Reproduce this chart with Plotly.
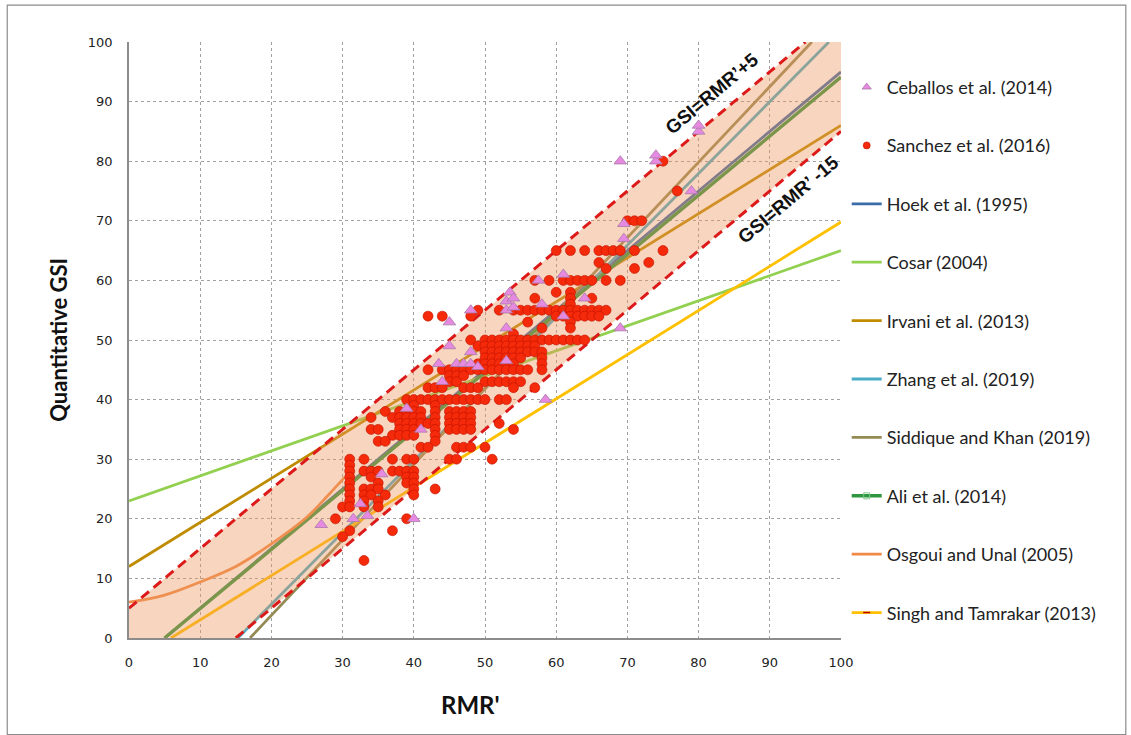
import plotly.graph_objects as go

# ---------------- data ----------------
# Sanchez et al. (2016) points (RMR', GSI)
sanchez_rmr = [
    75, 77, 70, 71, 72,
    60, 62, 64, 66, 67, 68, 69, 71, 75,
    66, 73, 67, 71,
    57, 59, 61, 62, 63, 64, 65, 67, 69,
    60, 62, 57, 62, 65, 62,
    49, 52, 54, 55, 56, 57, 58, 59, 60, 61, 62, 63, 64, 65, 66, 67,
    42, 44, 48, 60, 61, 62, 63, 64, 65, 66,
    56, 62, 58, 62, 54,
    48, 50, 51, 52, 53, 54, 55, 56, 57, 58, 59, 60, 61, 62, 63, 64,
    49, 50, 51, 52, 53, 54, 55, 56, 57,
    50, 51, 52, 53, 54, 55, 56, 57, 58,
    50, 51, 52, 53, 54, 55, 58,
    49, 50, 51, 52, 53, 54, 58,
    42, 44, 45, 46, 47, 48, 49, 50, 51, 52, 53, 54, 55, 56, 58,
    45, 46, 47,
    45, 46, 50, 51, 52, 53, 54, 55,
    42, 43, 44, 47, 48, 49, 54, 57,
    39, 40, 41, 42, 43, 44, 45, 46, 47, 48, 49, 50, 52, 53,
    40, 43,
    36, 38, 39, 40, 41, 43, 45, 46, 47, 48,
    34, 37, 38, 39, 40, 41, 43, 45, 46, 47, 48,
    38, 39, 40, 41, 42, 43, 45, 46, 47, 48, 52,
    34, 35, 38, 39, 40, 43, 45, 46, 47, 48, 54,
    37, 38, 39, 40, 43,
    35, 36, 43,
    41, 42, 46, 47, 48, 50,
    31, 33, 37, 39, 40, 45, 46, 51,
    31,
    31, 33, 34, 35, 37, 38, 39, 40,
    31, 34, 39, 40,
    31, 35, 39, 40,
    31, 33, 34, 35, 40, 43,
    31, 33, 34, 36, 40,
    31, 33, 35,
    30, 31, 33, 35,
    29, 39,
    31, 37,
    30,
    33,
]
sanchez_gsi = (
    [80, 75, 70, 70, 70]
    + [65] * 9
    + [63, 63, 62, 62]
    + [60] * 9
    + [58, 58, 57, 57, 57, 56]
    + [55] * 16
    + [54] * 10
    + [53, 53, 52, 52, 51]
    + [50] * 16
    + [49] * 9
    + [48] * 9
    + [47] * 7
    + [46] * 7
    + [45] * 15
    + [44] * 3
    + [43] * 8
    + [42] * 8
    + [40] * 14
    + [39] * 2
    + [38] * 10
    + [37] * 11
    + [36] * 11
    + [35] * 11
    + [34] * 5
    + [33] * 3
    + [32] * 6
    + [30] * 8
    + [29]
    + [28] * 8
    + [27] * 4
    + [26] * 4
    + [25] * 6
    + [24] * 5
    + [23] * 3
    + [22] * 4
    + [20] * 2
    + [18] * 2
    + [17]
    + [13]
)

# Ceballos et al. (2014) points
ceballos_rmr = [27, 31.5, 33.5, 32.5, 40, 35.5, 39, 41, 44, 43.5, 45, 45, 48, 48,
                46, 47, 48, 49, 53, 53, 53, 53, 53.5, 54, 54, 58.5, 58, 57.5, 61,
                61, 64, 69, 69.5, 69.5, 69, 74, 74, 79, 80, 80]
ceballos_gsi = [19, 20, 20.5, 22.5, 20, 27.5, 38.5, 35, 43, 46, 49, 53, 55, 48,
                46, 46, 46, 45.5, 52, 46.5, 55, 56.5, 58, 57, 55.5, 40, 56, 60, 61,
                54, 57, 52, 67, 69.5, 80, 80, 81, 75, 85, 86]

# Empirical relations (end points / read points)
hoek_rmr, hoek_gsi = [5, 100], [0, 95]
cosar_rmr, cosar_gsi = [0, 100], [23, 65]
irvani_rmr, irvani_gsi = [0, 100], [12, 86]
zhang_rmr, zhang_gsi = [15.3, 98.3], [0, 100]
siddique_rmr, siddique_gsi = [17, 95.9], [0, 100]
ali_rmr, ali_gsi = [5, 100], [0, 94.1]
osgoui_rmr = [0, 5, 10, 15, 20, 25, 28, 30.3]
osgoui_gsi = [6, 7.2, 9.4, 12, 15.8, 20.3, 24, 27]
singh_rmr, singh_gsi = [5.9, 100], [0, 69.8]

# Band and bounding lines
band_rmr = [0, 15, 100, 100, 95, 0]
band_gsi = [0, 0, 85, 100, 100, 5]
upper_rmr, upper_gsi = [0, 95], [5, 100]
lower_rmr, lower_gsi = [15, 100], [0, 85]

axis_ticks = [0, 10, 20, 30, 40, 50, 60, 70, 80, 90, 100]

# ---------------- figure ----------------
fig = go.Figure()

lines = [
    ("Hoek et al. (1995)", hoek_rmr, hoek_gsi, "#3B6BA8", 2.8, 3),
    ("Cosar (2004)", cosar_rmr, cosar_gsi, "#92D050", 2.8, 4),
    ("Irvani et al. (2013)", irvani_rmr, irvani_gsi, "#BF8C00", 2.8, 5),
    ("Zhang et al. (2019)", zhang_rmr, zhang_gsi, "#4BACC6", 2.8, 6),
    ("Siddique and Khan (2019)", siddique_rmr, siddique_gsi, "#948A54", 2.8, 7),
    ("Ali et al. (2014)", ali_rmr, ali_gsi, "#2F9640", 3.4, 8),
    ("Osgoui and Unal (2005)", osgoui_rmr, osgoui_gsi, "#F08A48", 2.8, 9),
    ("Singh and Tamrakar (2013)", singh_rmr, singh_gsi, "#FFC000", 2.8, 10),
]
for name, xs, ys, col, w, rank in lines:
    fig.add_trace(go.Scatter(
        x=xs, y=ys, mode="lines", name=name,
        line=dict(color=col, width=w, shape="spline" if len(xs) > 2 else "linear"),
        legendrank=rank, legendgroup=name,
        showlegend=name not in ("Ali et al. (2014)", "Singh and Tamrakar (2013)"),
    ))

# legend-only entries with small line markers (as in the original legend)
fig.add_trace(go.Scatter(
    x=[None], y=[None], mode="lines+markers", name="Ali et al. (2014)",
    line=dict(color="#2F9640", width=3.4),
    marker=dict(symbol="square-open", size=6, color="#7FC98A", line=dict(width=1)),
    legendrank=8, legendgroup="Ali et al. (2014)",
))
fig.add_trace(go.Scatter(
    x=[None], y=[None], mode="lines+markers", name="Singh and Tamrakar (2013)",
    line=dict(color="#FFC000", width=2.8),
    marker=dict(symbol="line-ew", size=5, color="#C00000", line=dict(width=1.5, color="#C00000")),
    legendrank=10, legendgroup="Singh and Tamrakar (2013)",
))

fig.add_trace(go.Scatter(
    x=band_rmr, y=band_gsi, mode="lines", fill="toself",
    fillcolor="rgba(238,150,93,0.40)", line=dict(width=0),
    showlegend=False, hoverinfo="skip",
))
for xs, ys in [(upper_rmr, upper_gsi), (lower_rmr, lower_gsi)]:
    fig.add_trace(go.Scatter(
        x=xs, y=ys, mode="lines", showlegend=False,
        line=dict(color="#DD1A1A", width=3, dash="10px,6px"),
    ))

fig.add_trace(go.Scatter(
    x=sanchez_rmr, y=sanchez_gsi, mode="markers", name="Sanchez et al. (2016)",
    marker=dict(symbol="circle", size=10, color="#F52A0A",
                line=dict(color="#C01000", width=0.6)),
    showlegend=False,
))
fig.add_trace(go.Scatter(
    x=ceballos_rmr, y=ceballos_gsi, mode="markers", name="Ceballos et al. (2014)",
    marker=dict(symbol="triangle-up", size=11, color="#E58AE0",
                line=dict(color="#A87AA8", width=0.8)),
    showlegend=False,
))
# legend-only small markers
fig.add_trace(go.Scatter(
    x=[None], y=[None], mode="markers", name="Ceballos et al. (2014)",
    marker=dict(symbol="triangle-up", size=8, color="#E58AE0",
                line=dict(color="#A87AA8", width=0.8)),
    legendrank=1, legendgroup="c",
))
fig.add_trace(go.Scatter(
    x=[None], y=[None], mode="markers", name="Sanchez et al. (2016)",
    marker=dict(symbol="circle", size=7, color="#F52A0A",
                line=dict(color="#C01000", width=0.6)),
    legendrank=2, legendgroup="s",
))

axis_common = dict(
    range=[0, 100], tickvals=axis_ticks, showgrid=True,
    gridcolor="#A0A0A0", griddash="dot", gridwidth=1,
    showline=True, linecolor="#8C8C8C", linewidth=1.5,
    zeroline=False, ticks="", ticklabelstandoff=12,
    tickfont=dict(family="DejaVu Sans", size=13, color="#222222"),
)
fig.update_xaxes(**axis_common)
fig.update_yaxes(**axis_common)

fig.update_layout(
    width=1131, height=735,
    margin=dict(l=129, r=290, t=42, b=97),
    plot_bgcolor="white", paper_bgcolor="white",
    showlegend=True,
    legend=dict(
        x=1.008, y=0.955, xanchor="left", yanchor="top",
        font=dict(family="Lato", size=18, color="#222222"),
        tracegroupgap=32, itemwidth=30, bgcolor="rgba(0,0,0,0)",
    ),
    annotations=[
        dict(text="<b>Quantitative GSI</b>", xref="paper", yref="paper",
             x=-0.1, y=0.5, xanchor="center", yanchor="middle",
             textangle=-90, showarrow=False,
             font=dict(family="Lato", size=22, color="#111111")),
        dict(text="<b>RMR'</b>", xref="paper", yref="paper",
             x=0.479, y=-0.112, xanchor="center", yanchor="middle", showarrow=False,
             font=dict(family="Lato", size=24, color="#111111")),
        dict(text="<b>GSI=RMR’+5</b>", x=81.9, y=91.3, textangle=-40,
             showarrow=False, font=dict(family="Liberation Sans", size=19, color="#111111")),
        dict(text="<b>GSI=RMR’ -15</b>", x=92.6, y=73.6, textangle=-40,
             showarrow=False, font=dict(family="Liberation Sans", size=19, color="#111111")),
    ],
    shapes=[
        dict(type="rect", xref="paper", yref="paper",
             x0=-0.171, x1=1.4, y0=-0.162, y1=1.062,
             line=dict(color="#8C8C8C", width=1.2), fillcolor="rgba(0,0,0,0)"),
    ],
)

fig.write_html("out.html")
